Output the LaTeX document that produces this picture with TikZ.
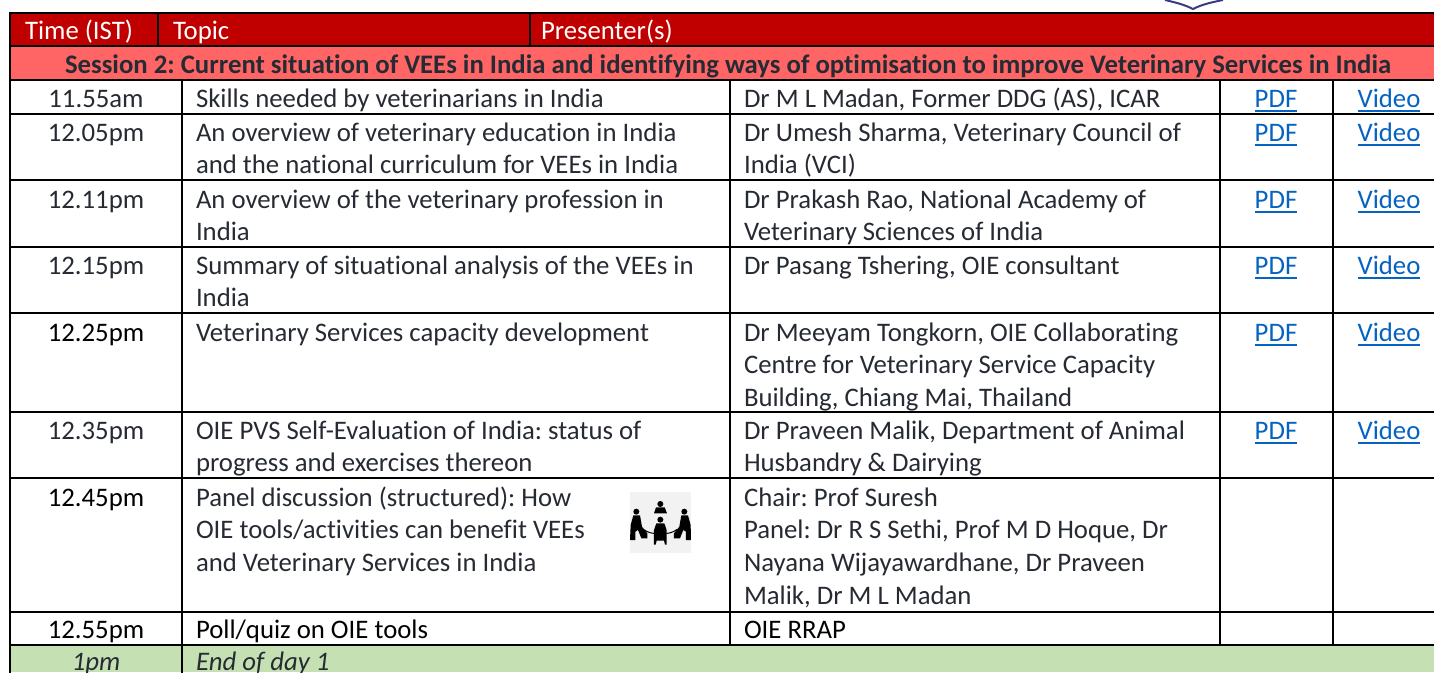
\documentclass[tikz,border=0pt]{standalone}
\usepackage{fontspec}
\setmainfont{Carlito}[Ligatures=NoCommon]
\frenchspacing
\definecolor{hdr}{HTML}{C00000}
\definecolor{sess}{HTML}{FF6565}
\definecolor{endrow}{HTML}{C5E0B3}
\definecolor{ink}{HTML}{262B33}
\definecolor{lnk}{HTML}{0563C1}
\definecolor{logo}{HTML}{3B3A86}
\newcommand{\fs}{\fontsize{26.75}{32}\selectfont}
\newcommand{\lk}[1]{\leavevmode\setbox0\hbox{#1}\rlap{\vrule height -2.4pt depth 4.4pt width \wd0}\box0}
\tikzset{x=1pt,y=-1pt,
 txt/.style={anchor=base west,inner sep=0pt,outer sep=0pt,font=\fs,text=ink},
 blk/.style={txt,text=black},
 ctr/.style={anchor=base,inner sep=0pt,outer sep=0pt,font=\fs,text=ink},
 ctrb/.style={ctr,text=black},
 hd/.style={txt,text=white},
 lnkn/.style={ctr,text=lnk},
 grid/.style={line width=2.8pt,draw=black,line cap=rect},
 fig/.style={fill=black,draw=none}}
\begin{document}
\begin{tikzpicture}
\useasboundingbox (0,0) rectangle (1434,672);
\fill[white] (0,0) rectangle (1434,672);
\fill[hdr] (10,13) rectangle (1434,46);
\fill[sess] (10,46) rectangle (1434,80);
\fill[endrow] (10,645) rectangle (1434,672);
% logo fragment
\draw[logo,line width=2pt] (1165,0) .. controls (1178,3) and (1185,5) .. (1193,9) .. controls (1201,5) and (1208,3) .. (1223,0);
\foreach \y in {13,46,80,114,180,247,313,412,478,612,645}
  \draw[grid] (10,\y) -- (1434,\y);
\draw[grid] (10,13) -- (10,672);
\draw[grid] (158,13) -- (158,46);
\draw[grid] (530,13) -- (530,46);
\draw[grid] (182,80) -- (182,672);
\draw[grid] (730,80) -- (730,645);
\draw[grid] (1220,80) -- (1220,645);
\draw[grid] (1333,80) -- (1333,645);
\begin{scope}[shift={(0,0.8)}]
% header
\node[hd] (h1) at (25,39) {Time (IST)};
\node[hd] (h2) at (173,39) {Topic};
\node[hd] (h3) at (541,39) {Presenter(s)};
\node[ctr,font=\fs\bfseries] (s) at (728,73) {Session 2: Current situation of VEEs in India and identifying ways of optimisation to improve Veterinary Services in India};
% times
\node[ctr] at (96,107) {11.55am};
\node[ctr] at (96,141) {12.05pm};
\node[ctr] at (96,208) {12.11pm};
\node[ctr] at (96,274) {12.15pm};
\node[ctrb] at (96,341) {12.25pm};
\node[ctr] at (96,439) {12.35pm};
\node[ctrb] at (96,506) {12.45pm};
\node[ctrb] at (96,638) {12.55pm};
\node[ctr,font=\fs\itshape] at (96,670) {1pm};
% topics
\node[txt] at (196,107) {Skills needed by veterinarians in India};
\node[txt] at (196,141) {An overview of veterinary education in India};
\node[txt] at (196,173) {and the national curriculum for VEEs in India};
\node[txt] at (196,208) {An overview of the veterinary profession in};
\node[txt] at (196,240) {India};
\node[txt] at (196,274) {Summary of situational analysis of the VEEs in};
\node[txt] at (196,306) {India};
\node[txt] at (196,341) {Veterinary Services capacity development};
\node[txt] at (196,439) {OIE PVS Self-Evaluation of India: status of};
\node[txt] at (196,471) {progress and exercises thereon};
\node[txt] at (196,506) {Panel discussion (structured): How};
\node[txt] at (196,538) {OIE tools/activities can benefit VEEs};
\node[txt] at (196,571) {and Veterinary Services in India};
\node[blk] at (196,638) {Poll/quiz on OIE tools};
\node[txt,font=\fs\itshape] at (196,670) {End of day 1};
% presenters
\node[txt] at (744,107) {Dr M L Madan, Former DDG (AS), ICAR};
\node[txt] at (744,141) {Dr Umesh Sharma, Veterinary Council of};
\node[txt] at (744,173) {India (VCI)};
\node[txt] at (744,208) {Dr Prakash Rao, National Academy of};
\node[txt] at (744,240) {Veterinary Sciences of India};
\node[txt] at (744,274) {Dr Pasang Tshering, OIE consultant};
\node[txt] at (744,341) {Dr Meeyam Tongkorn, OIE Collaborating};
\node[txt] at (744,373) {Centre for Veterinary Service Capacity};
\node[txt] at (744,406) {Building, Chiang Mai, Thailand};
\node[txt] at (744,439) {Dr Praveen Malik, Department of Animal};
\node[txt] at (744,471) {Husbandry \& Dairying};
\node[txt] at (744,506) {Chair: Prof Suresh};
\node[txt] at (744,538) {Panel: Dr R S Sethi, Prof M D Hoque, Dr};
\node[txt] at (744,571) {Nayana Wijayawardhane, Dr Praveen};
\node[txt] at (744,604) {Malik, Dr M L Madan};
\node[blk] at (744,638) {OIE RRAP};
% links
\foreach \y in {107,141,208,274,341,439}{
 \node[lnkn] at (1276,\y) {\lk{PDF}};
 \node[lnkn] at (1389,\y) {\lk{Video}};
}
\end{scope}
% icon
\fill[black!5] (630,492) rectangle (691,553);
\begin{scope}[shift={(560,470)},x=0.3333pt,y=-0.3333pt]
 \fill[fig] (301,102) circle (9);
 \fill[fig] (282,130) -- (288,112) -- (314,112) -- (321,130) -- cycle;
 \fill[fig] (229,125) circle (9);
 \fill[fig] (220,136) -- (240,136) -- (246,170) -- (262,190) -- (262,205) -- (244,205) -- (234,180) -- (226,185) -- (226,210) -- (210,210) -- (212,165) -- cycle;
 \fill[fig] (373,125) circle (9);
 \fill[fig] (364,136) -- (384,136) -- (392,165) -- (393,210) -- (378,210) -- (378,185) -- (370,180) -- (360,205) -- (342,205) -- (342,190) -- (358,170) -- cycle;
 \fill[fig] (301,149) circle (9);
 \fill[fig] (289,160) -- (313,160) -- (320,180) -- (320,224) -- (315,224) -- (312,212) -- (290,212) -- (287,224) -- (282,224) -- (282,180) -- cycle;
 \draw[black,line width=1pt] (250,178) .. controls (265,188) and (275,190) .. (283,190);
 \draw[black,line width=1pt] (352,178) .. controls (337,188) and (327,190) .. (319,190);
\end{scope}
\end{tikzpicture}
\end{document}
